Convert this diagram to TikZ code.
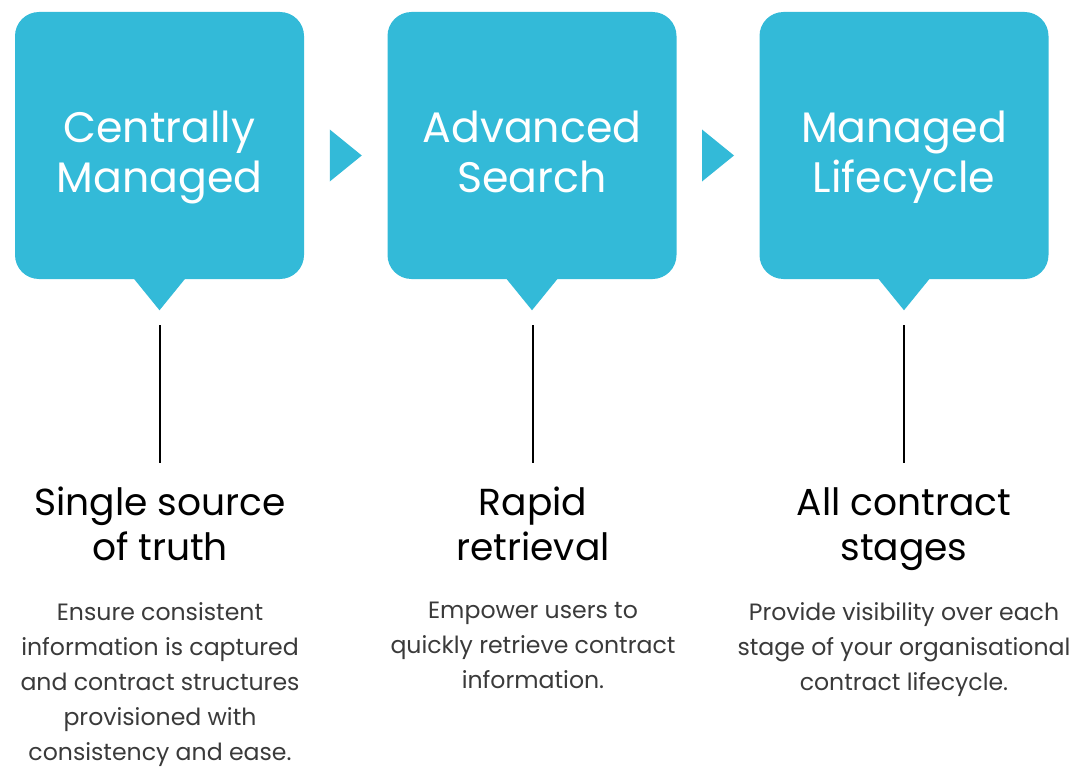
\documentclass[tikz,border=0pt]{standalone}
\usepackage{fontspec}
\setmainfont{Poppins}
\usetikzlibrary{calc}
\definecolor{cardblue}{HTML}{33BAD8}
\definecolor{bodygrey}{HTML}{3A3A3A}

\begin{document}
\begin{tikzpicture}[x=0.75pt, y=-0.75pt]

    \tikzstyle{card}=[rectangle, rounded corners=18pt, fill=cardblue, minimum width=216.75pt, minimum height=200.25pt, inner sep=0pt];
    \tikzstyle{title}=[anchor=north, align=center, inner sep=0pt, text=white, font=\fontsize{32}{37.5}\selectfont];
    \tikzstyle{heading}=[anchor=north, align=center, inner sep=0pt, font=\fontsize{28.2}{33.75}\selectfont];
    \tikzstyle{blurb}=[anchor=north, align=center, inner sep=0pt, text=bodygrey, font=\fontsize{17.7}{26.25}\selectfont];
    \tikzstyle{pointer}=[fill=cardblue];
    \tikzstyle{stem}=[line width=1.1pt];

    \useasboundingbox (0,0) rectangle (1075,767);

    \node[card] (c1) at (159.5,145.5) {};
    \node[card] (c2) at (532,145.5) {};
    \node[card] (c3) at (904,145.5) {};

    \node[title] (t1) at ($(c1.center)+(0,-35)$) {Centrally\\Managed};
    \node[title] (t2) at ($(c2.center)+(0,-35)$) {Advanced\\Search};
    \node[title] (t3) at ($(c3.center)+(0,-35)$) {Managed\\Lifecycle};

    % pointers under the cards
    \fill[pointer] ($(c1.south)+(-26,-1)$) -- ($(c1.south)+(0,31)$) -- ($(c1.south)+(26,-1)$) -- cycle;
    \fill[pointer] ($(c2.south)+(-26,-1)$) -- ($(c2.south)+(0,31)$) -- ($(c2.south)+(26,-1)$) -- cycle;
    \fill[pointer] ($(c3.south)+(-26,-1)$) -- ($(c3.south)+(0,31)$) -- ($(c3.south)+(26,-1)$) -- cycle;

    % arrows between the cards
    \coordinate (a1) at ($($(c1.east)!0.5!(c2.west)$)+(0,10)$);
    \coordinate (a2) at ($($(c2.east)!0.5!(c3.west)$)+(0,10)$);
    \fill[pointer] ($(a1)+(-16,-26)$) -- ($(a1)+(16,0)$) -- ($(a1)+(-16,26)$) -- cycle;
    \fill[pointer] ($(a2)+(-16,-26)$) -- ($(a2)+(16,0)$) -- ($(a2)+(-16,26)$) -- cycle;

    \node[heading] (h1) at (160,487) {Single source\\of truth};
    \node[heading] (h2) at (533,487) {Rapid\\retrieval};
    \node[heading] (h3) at (904,487) {All contract\\stages};

    \node[blurb] (b1) at (160,602) {Ensure consistent\\information is captured\\and contract structures\\provisioned with\\consistency and ease.};
    \node[blurb] (b2) at (533,602) {Empower users to\\quickly retrieve contract\\information.};
    \node[blurb] (b3) at (904,602) {Provide visibility over each\\stage of your organisational\\contract lifecycle.};

    \coordinate (s1) at ($(c1.south)+(0.5,46)$);
    \coordinate (e1) at ($(c1.south)+(0.5,184)$);
    \coordinate (s2) at ($(c2.south)+(1,46)$);
    \coordinate (e2) at ($(c2.south)+(1,184)$);
    \coordinate (s3) at ($(c3.south)+(0,46)$);
    \coordinate (e3) at ($(c3.south)+(0,184)$);
    \draw[stem] (s1) -- (e1);
    \draw[stem] (s2) -- (e2);
    \draw[stem] (s3) -- (e3);

\end{tikzpicture}
\end{document}
